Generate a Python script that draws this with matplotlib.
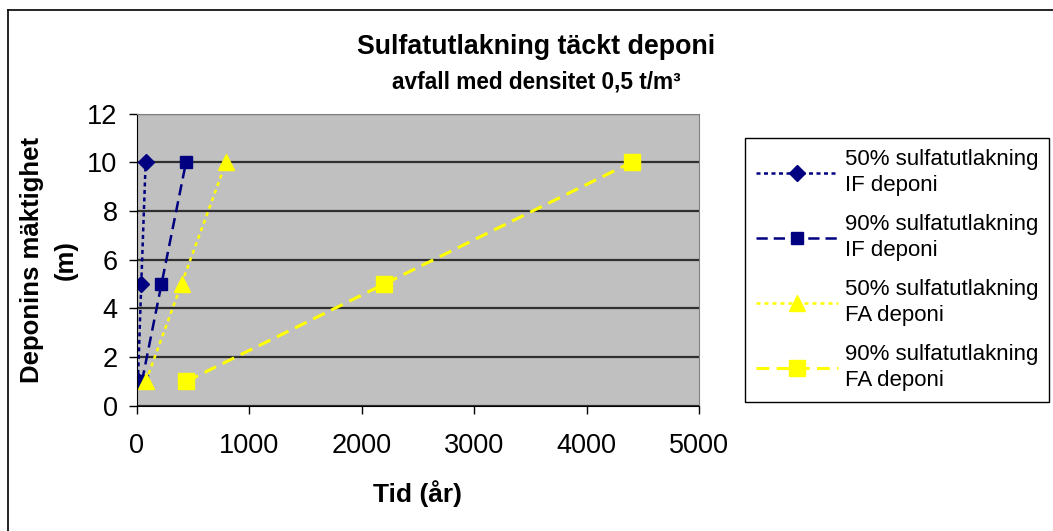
import matplotlib.pyplot as plt
from matplotlib.lines import Line2D

plt.rcParams['font.family'] = ['Liberation Sans', 'DejaVu Sans']

# Deponins mäktighet (m)
djup = [1, 5, 10]

# Tid (år) för respektive serie
if_50 = [8, 38, 77]
if_90 = [44, 218, 436]
fa_50 = [79, 396, 792]
fa_90 = [440, 2200, 4400]

serier = ['50% sulfatutlakning\nIF deponi', '90% sulfatutlakning\nIF deponi',
          '50% sulfatutlakning\nFA deponi', '90% sulfatutlakning\nFA deponi']

x_ticks = [0, 1000, 2000, 3000, 4000, 5000]
y_ticks = [0, 2, 4, 6, 8, 10, 12]

navy = '#000080'
gul = '#FFFF00'

fig = plt.figure(figsize=(10.53, 5.31), dpi=100)
ax = fig.add_axes([0.1301, 0.236, 0.5337, 0.550])
ax.set_facecolor('#C0C0C0')

ax.plot(if_50, djup, color=navy, lw=1.8, ls=(0, (1.6, 1.4)), marker='D', ms=8.5,
        label=serier[0])
ax.plot(if_90, djup, color=navy, lw=1.8, ls=(0, (4.5, 2.4)), marker='s', ms=9,
        label=serier[1])
ax.plot(fa_50, djup, color=gul, lw=1.8, ls=(0, (1.6, 1.6)), marker='^', ms=11,
        label=serier[2])
ax.plot(fa_90, djup, color=gul, lw=2.2, ls=(0, (4.2, 2.4)), marker='s', ms=11,
        label=serier[3])

ax.set_xlim(0, 5000)
ax.set_ylim(0, 12)
ax.set_xticks(x_ticks)
ax.set_yticks(y_ticks)
ax.tick_params(labelsize=19.5, direction='out', length=6, width=1, color='black')
ax.tick_params(axis='x', pad=14)
ax.tick_params(axis='y', pad=8)
ax.yaxis.grid(True, color='#303030', lw=1.6)
ax.set_axisbelow(True)
for s in ['top', 'right']:
    ax.spines[s].set_color('#808080')
for s in ['left', 'bottom']:
    ax.spines[s].set_color('black')

ax.set_xlabel('Tid (år)', fontsize=19, fontweight='bold')
ax.xaxis.set_label_coords(0.5, -0.254)
ax.set_ylabel('Deponins mäktighet\n(m)', fontsize=18.5, fontweight='bold',
              linespacing=1.5)
ax.yaxis.set_label_coords(-0.105, 0.5)

fig.text(0.509, 0.912, 'Sulfatutlakning täckt deponi', ha='center', va='center',
         fontsize=19.3, fontweight='bold')
fig.text(0.509, 0.846, 'avfall med densitet 0,5 t/m³', ha='center', va='center',
         fontsize=16.3, fontweight='bold')

# Teckenförklaring i en fast ruta till höger om diagrammet
leg_x0, leg_x1, leg_top = 745 / 1053, 1049 / 1053, 1 - 138 / 531
leg = ax.legend(loc='upper left', bbox_to_anchor=(leg_x0, leg_top - 0.5, leg_x1 - leg_x0, 0.5),
                bbox_transform=fig.transFigure, mode='expand', fontsize=16, frameon=True,
                fancybox=False, edgecolor='black', framealpha=1,
                handlelength=3.7, handletextpad=0.3, labelspacing=0.8,
                borderpad=0.5, borderaxespad=0)
leg.get_frame().set_linewidth(1)
for t in leg.get_texts():
    t.set_linespacing(1.32)

# Ram kring hela diagrammet
fig.add_artist(Line2D([8 / 1053, 8 / 1053], [0, 1 - 10 / 531], color='black', lw=1.2,
                      transform=fig.transFigure))
fig.add_artist(Line2D([8 / 1053, 1], [1 - 10 / 531, 1 - 10 / 531], color='black', lw=1.2,
                      transform=fig.transFigure))

fig.savefig('out.png', dpi=100)
